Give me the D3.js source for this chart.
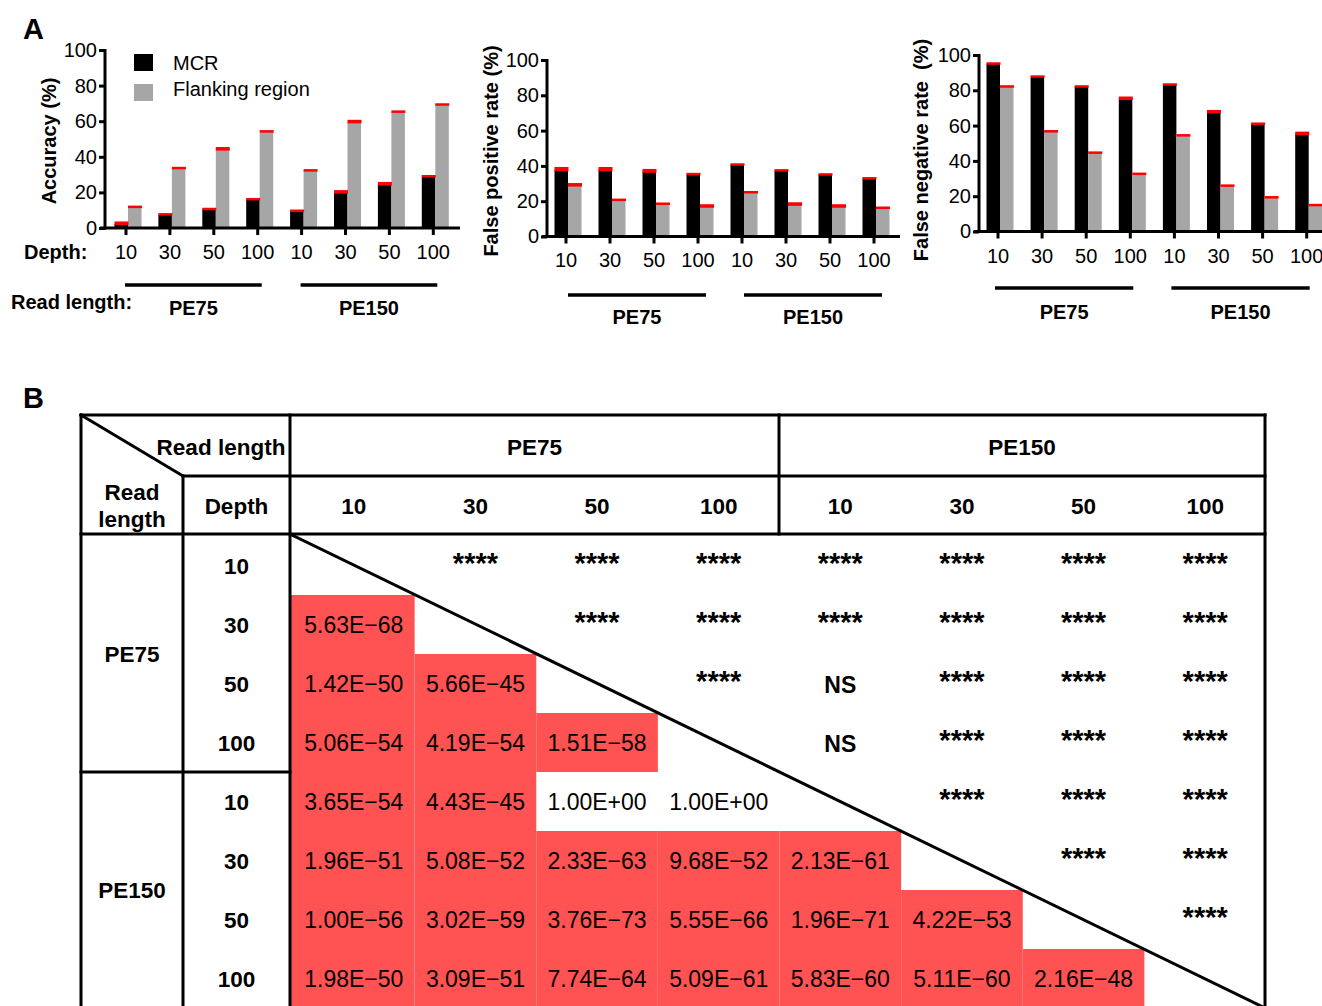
<!DOCTYPE html>
<html>
<head>
<meta charset="utf-8">
<style>
  body { margin: 0; background: #fff; }
  svg { display: block; font-family: "Liberation Sans", Arial, sans-serif; }
</style>
</head>
<body>
<div id="chart"></div>
<script src="https://d3js.org/d3.v7.min.js"></script>
<script>
    // panel A data
    const depths = ['10', '30', '50', '100', '10', '30', '50', '100'];
    const readLengths = ['PE75', 'PE150'];
    const series = ['MCR', 'Flanking region'];
    const yTicks = [0, 20, 40, 60, 80, 100];

    const accMCR      = [2.4, 7.5, 10.5, 16, 9.5, 20, 24.6, 29];
    const accMCRErr   = [1.0, 0.6, 0.6, 0.6, 0.6, 1.0, 1.0, 0.5];
    const accFlank    = [11.8, 33.6, 44.2, 54.2, 32.3, 59.5, 65.3, 69.4];
    const accFlankErr = [0.5, 0.5, 1.0, 0.5, 0.5, 1.0, 0.5, 0.4];

    const fprMCR      = [37.9, 37.9, 36.9, 35.3, 40.8, 37.4, 35.1, 33.0];
    const fprMCRErr   = [1.2, 1.2, 1.1, 0.5, 0.4, 0.5, 0.5, 0.4];
    const fprFlank    = [29.0, 20.8, 18.5, 17.0, 25.1, 18.1, 17.0, 16.2];
    const fprFlankErr = [1.0, 0.4, 0.5, 1.0, 0.4, 1.0, 1.0, 0.5];

    const fnrMCR      = [95.1, 87.6, 82.2, 75.2, 83.2, 67.6, 61.0, 55.3];
    const fnrMCRErr   = [0.5, 0.6, 0.4, 1.0, 0.5, 1.0, 0.5, 1.0];
    const fnrFlank    = [82.2, 56.8, 44.7, 32.7, 54.5, 26.0, 19.4, 14.9];
    const fnrFlankErr = [0.4, 0.4, 0.4, 0.4, 0.4, 0.4, 0.4, 0.5];

    // panel B data
    const tableDepths = ['10', '30', '50', '100', '10', '30', '50', '100'];
    const pLower = [
      [],
      ['5.63E−68'],
      ['1.42E−50', '5.66E−45'],
      ['5.06E−54', '4.19E−54', '1.51E−58'],
      ['3.65E−54', '4.43E−45', '1.00E+00', '1.00E+00'],
      ['1.96E−51', '5.08E−52', '2.33E−63', '9.68E−52', '2.13E−61'],
      ['1.00E−56', '3.02E−59', '3.76E−73', '5.55E−66', '1.96E−71', '4.22E−53'],
      ['1.98E−50', '3.09E−51', '7.74E−64', '5.09E−61', '5.83E−60', '5.11E−60', '2.16E−48']
    ];
    const sigUpper = [
      ['****', '****', '****', '****', '****', '****', '****'],
      ['****', '****', '****', '****', '****', '****'],
      ['****', 'NS', '****', '****', '****'],
      ['NS', '****', '****', '****'],
      ['****', '****', '****'],
      ['****', '****'],
      ['****'],
      []
    ];

    const W = 1322, H = 1006;
    const svg = d3.select('#chart').append('svg')
                  .attr('width', W).attr('height', H);

    const BLACK = '#000', GREY = '#a6a6a6', RED = '#ff0000', CELL = '#ff5252';

    // ---------- panel A ----------
    function barChart(cfg) {
      const g = svg.append('g');
      const y = d3.scaleLinear().domain([0, 100]).range([cfg.y0, cfg.y100]);
      const x = d3.scaleBand().domain(d3.range(depths.length))
                  .range([cfg.c0 - cfg.step / 2, cfg.c0 + cfg.step * (depths.length - 0.5)]);
      const cx = i => x(i) + x.bandwidth() / 2;
      const sub = d3.scaleBand().domain(series).range([-11.5, 15.5]);

      const data = [];
      depths.forEach((d, i) => {
        data.push({i, s: series[0], v: cfg.mcr[i], e: cfg.mcrErr[i]});
        data.push({i, s: series[1], v: cfg.flank[i], e: cfg.flankErr[i]});
      });

      g.selectAll('rect.bar').data(data).enter().append('rect')
        .attr('class', 'bar')
        .attr('x', d => cx(d.i) + sub(d.s))
        .attr('width', sub.bandwidth())
        .attr('y', d => y(d.v))
        .attr('height', d => y(0) - y(d.v))
        .attr('fill', d => d.s === 'MCR' ? BLACK : GREY);

      // error caps
      g.selectAll('rect.err').data(data).enter().append('rect')
        .attr('class', 'err')
        .attr('x', d => cx(d.i) + sub(d.s))
        .attr('width', sub.bandwidth() + 0.5)
        .attr('y', d => y(d.v + d.e) - 0.5)
        .attr('height', d => Math.max(2.5, y(d.v - d.e) - y(d.v + d.e)))
        .attr('fill', RED);

      // y axis
      const ay = g.append('g').attr('transform', `translate(${cfg.ax},0)`)
        .call(d3.axisLeft(y).tickValues(yTicks).tickSize(6).tickSizeOuter(0).tickPadding(2));
      ay.select('.domain').attr('stroke-width', 3).attr('d', `M0,${cfg.y0 + 1.5}V${cfg.y100 - 1}`);
      ay.selectAll('.tick line').attr('stroke-width', 3);
      ay.selectAll('.tick text').attr('font-size', 20).attr('font-family', 'Liberation Sans, Arial, sans-serif')
        .attr('fill', '#000');

      // x axis
      g.append('line').attr('x1', cfg.ax - 5).attr('x2', cfg.xEnd)
        .attr('y1', y(0)).attr('y2', y(0))
        .style('stroke', '#000').style('stroke-width', 3);
      g.selectAll('line.xt').data(depths).enter().append('line')
        .attr('x1', (d, i) => cx(i)).attr('x2', (d, i) => cx(i))
        .attr('y1', y(0)).attr('y2', y(0) + 7)
        .style('stroke', '#000').style('stroke-width', 3);
      g.selectAll('text.xl').data(depths).enter().append('text')
        .attr('x', (d, i) => cx(i)).attr('y', cfg.depthY)
        .attr('text-anchor', 'middle').attr('font-size', 20)
        .text(d => d);

      // read length groups
      readLengths.forEach((r, k) => {
        const a = cx(k * 4) + cfg.lineOff[0], b = cx(k * 4 + 3) + cfg.lineOff[1];
        g.append('line').attr('x1', a).attr('x2', b)
          .attr('y1', cfg.lineY).attr('y2', cfg.lineY)
          .style('stroke', '#000').style('stroke-width', 3.5);
        g.append('text').attr('x', (a + b) / 2).attr('y', cfg.rlY)
          .attr('text-anchor', 'middle').attr('font-size', 20).attr('font-weight', 'bold')
          .text(r);
      });

      g.append('text')
        .attr('transform', `translate(${cfg.labX},${cfg.labY}) rotate(-90)`)
        .attr('text-anchor', 'middle').attr('dy', '0.35em')
        .attr('font-size', 20).attr('font-weight', 'bold')
        .attr('xml:space', 'preserve')
        .text(cfg.label);
      return g;
    }

    barChart({ax: 105, y0: 228, y100: 50, c0: 126, step: 43.9, xEnd: 460, lineOff: [-1, 4],
              mcr: accMCR, mcrErr: accMCRErr, flank: accFlank, flankErr: accFlankErr,
              depthY: 259, lineY: 285, rlY: 315, labX: 49, labY: 141, label: 'Accuracy (%)'});
    barChart({ax: 547, y0: 236.5, y100: 60, c0: 566, step: 44, xEnd: 900, lineOff: [2, 8],
              mcr: fprMCR, mcrErr: fprMCRErr, flank: fprFlank, flankErr: fprFlankErr,
              depthY: 267, lineY: 295, rlY: 324, labX: 491, labY: 151, label: 'False positive rate (%)'});
    barChart({ax: 979, y0: 231.5, y100: 55, c0: 998, step: 44.1, xEnd: 1322, lineOff: [-3, 3],
              mcr: fnrMCR, mcrErr: fnrMCRErr, flank: fnrFlank, flankErr: fnrFlankErr,
              depthY: 263, lineY: 288, rlY: 319, labX: 921, labY: 150, label: 'False negative rate  (%)'});

    // legend
    const leg = svg.append('g');
    series.forEach((s, i) => {
      leg.append('rect').attr('x', 134).attr('y', 54 + i * 30).attr('width', 19).attr('height', 17)
        .attr('fill', i === 0 ? BLACK : GREY);
      leg.append('text').attr('x', 173).attr('y', 70 + i * 26).attr('font-size', 20).text(s);
    });

    svg.append('text').attr('x', 11).attr('y', 309).attr('font-size', 20).attr('font-weight', 'bold').text('Read length:');
    svg.append('text').attr('x', 24).attr('y', 259).attr('font-size', 20).attr('font-weight', 'bold').text('Depth:');

    svg.append('text').attr('x', 23).attr('y', 39).attr('font-size', 29).attr('font-weight', 'bold').text('A');
    svg.append('text').attr('x', 23).attr('y', 408).attr('font-size', 29).attr('font-weight', 'bold').text('B');

    // ---------- panel B ----------
    const T = {l: 81, c1: 183, c2: 290, mid: 779, r: 1265, top: 415, h1: 476, h2: 534, bot: 1010};
    const col = d3.scaleBand().domain(d3.range(8)).range([293, 1266]);
    const row = d3.scaleBand().domain(d3.range(8)).range([536, 1008]);
    const ccx = j => col(j) + col.bandwidth() / 2;
    const rcy = i => row(i) + row.bandwidth() / 2;
    const pNum = s => +s.replace('−', '-');

    const tb = svg.append('g');

    // red cells (p < 0.05)
    const cells = [];
    pLower.forEach((r, i) => r.forEach((v, j) => cells.push({i, j, v})));
    tb.selectAll('rect.cell').data(cells.filter(d => pNum(d.v) < 0.05)).enter().append('rect')
      .attr('x', d => d.j === 0 ? T.c2 : col(d.j))
      .attr('y', d => row(d.i))
      .attr('width', d => d.j === 0 ? col(1) - T.c2 : col.bandwidth())
      .attr('height', row.bandwidth())
      .attr('fill', CELL);

    tb.selectAll('text.pv').data(cells).enter().append('text')
      .attr('x', d => ccx(d.j)).attr('y', d => rcy(d.i) + 8)
      .attr('text-anchor', 'middle').attr('font-size', 23)
      .text(d => d.v);

    const sig = [];
    sigUpper.forEach((r, i) => r.forEach((v, k) => sig.push({i, j: i + 1 + k, v})));
    tb.selectAll('text.sig').data(sig).enter().append('text')
      .attr('x', d => ccx(d.j))
      .attr('y', d => d.v === 'NS' ? rcy(d.i) + 9 : rcy(d.i) + 7)
      .attr('text-anchor', 'middle').attr('font-weight', 'bold')
      .attr('font-size', d => d.v === 'NS' ? 23 : 29)
      .text(d => d.v);

    // grid lines
    const lines = [
      [T.l, T.top, T.r, T.top],
      [T.c1, T.h1, T.r, T.h1],
      [T.l, T.h2, T.r, T.h2],
      [T.l, row(4), T.c2, row(4)],
      [T.l, T.top, T.l, T.bot],
      [T.c1, T.h1, T.c1, T.bot],
      [T.c2, T.top, T.c2, T.bot],
      [T.mid, T.top, T.mid, T.h2],
      [T.r, T.top, T.r, T.bot],
      [T.l, T.top, T.c1, T.h1],
      [T.c2, T.h2, T.r, 1008]
    ];
    tb.selectAll('line.grid').data(lines).enter().append('line')
      .attr('x1', d => d[0]).attr('y1', d => d[1]).attr('x2', d => d[2]).attr('y2', d => d[3])
      .style('stroke', '#000').style('stroke-width', 3).style('stroke-linecap', 'square');

    const bold = (x, y, t, anchor) => tb.append('text').attr('x', x).attr('y', y)
      .attr('text-anchor', anchor || 'middle').attr('font-size', 22.5).attr('font-weight', 'bold').text(t);

    bold(221, 455, 'Read length');
    bold(132, 500, 'Read');
    bold(132, 527, 'length');
    bold(236.5, 514, 'Depth');
    readLengths.forEach((r, k) => bold(k === 0 ? (T.c2 + T.mid) / 2 : (T.mid + T.r) / 2, 455, r));
    tableDepths.forEach((d, j) => bold(ccx(j), 514, d));
    tableDepths.forEach((d, i) => bold(236.5, rcy(i) + 8, d));
    readLengths.forEach((r, k) => bold(132, (row(k * 4) + row(k * 4 + 3) + row.bandwidth()) / 2 + 8, r));
</script>
</body>
</html>
